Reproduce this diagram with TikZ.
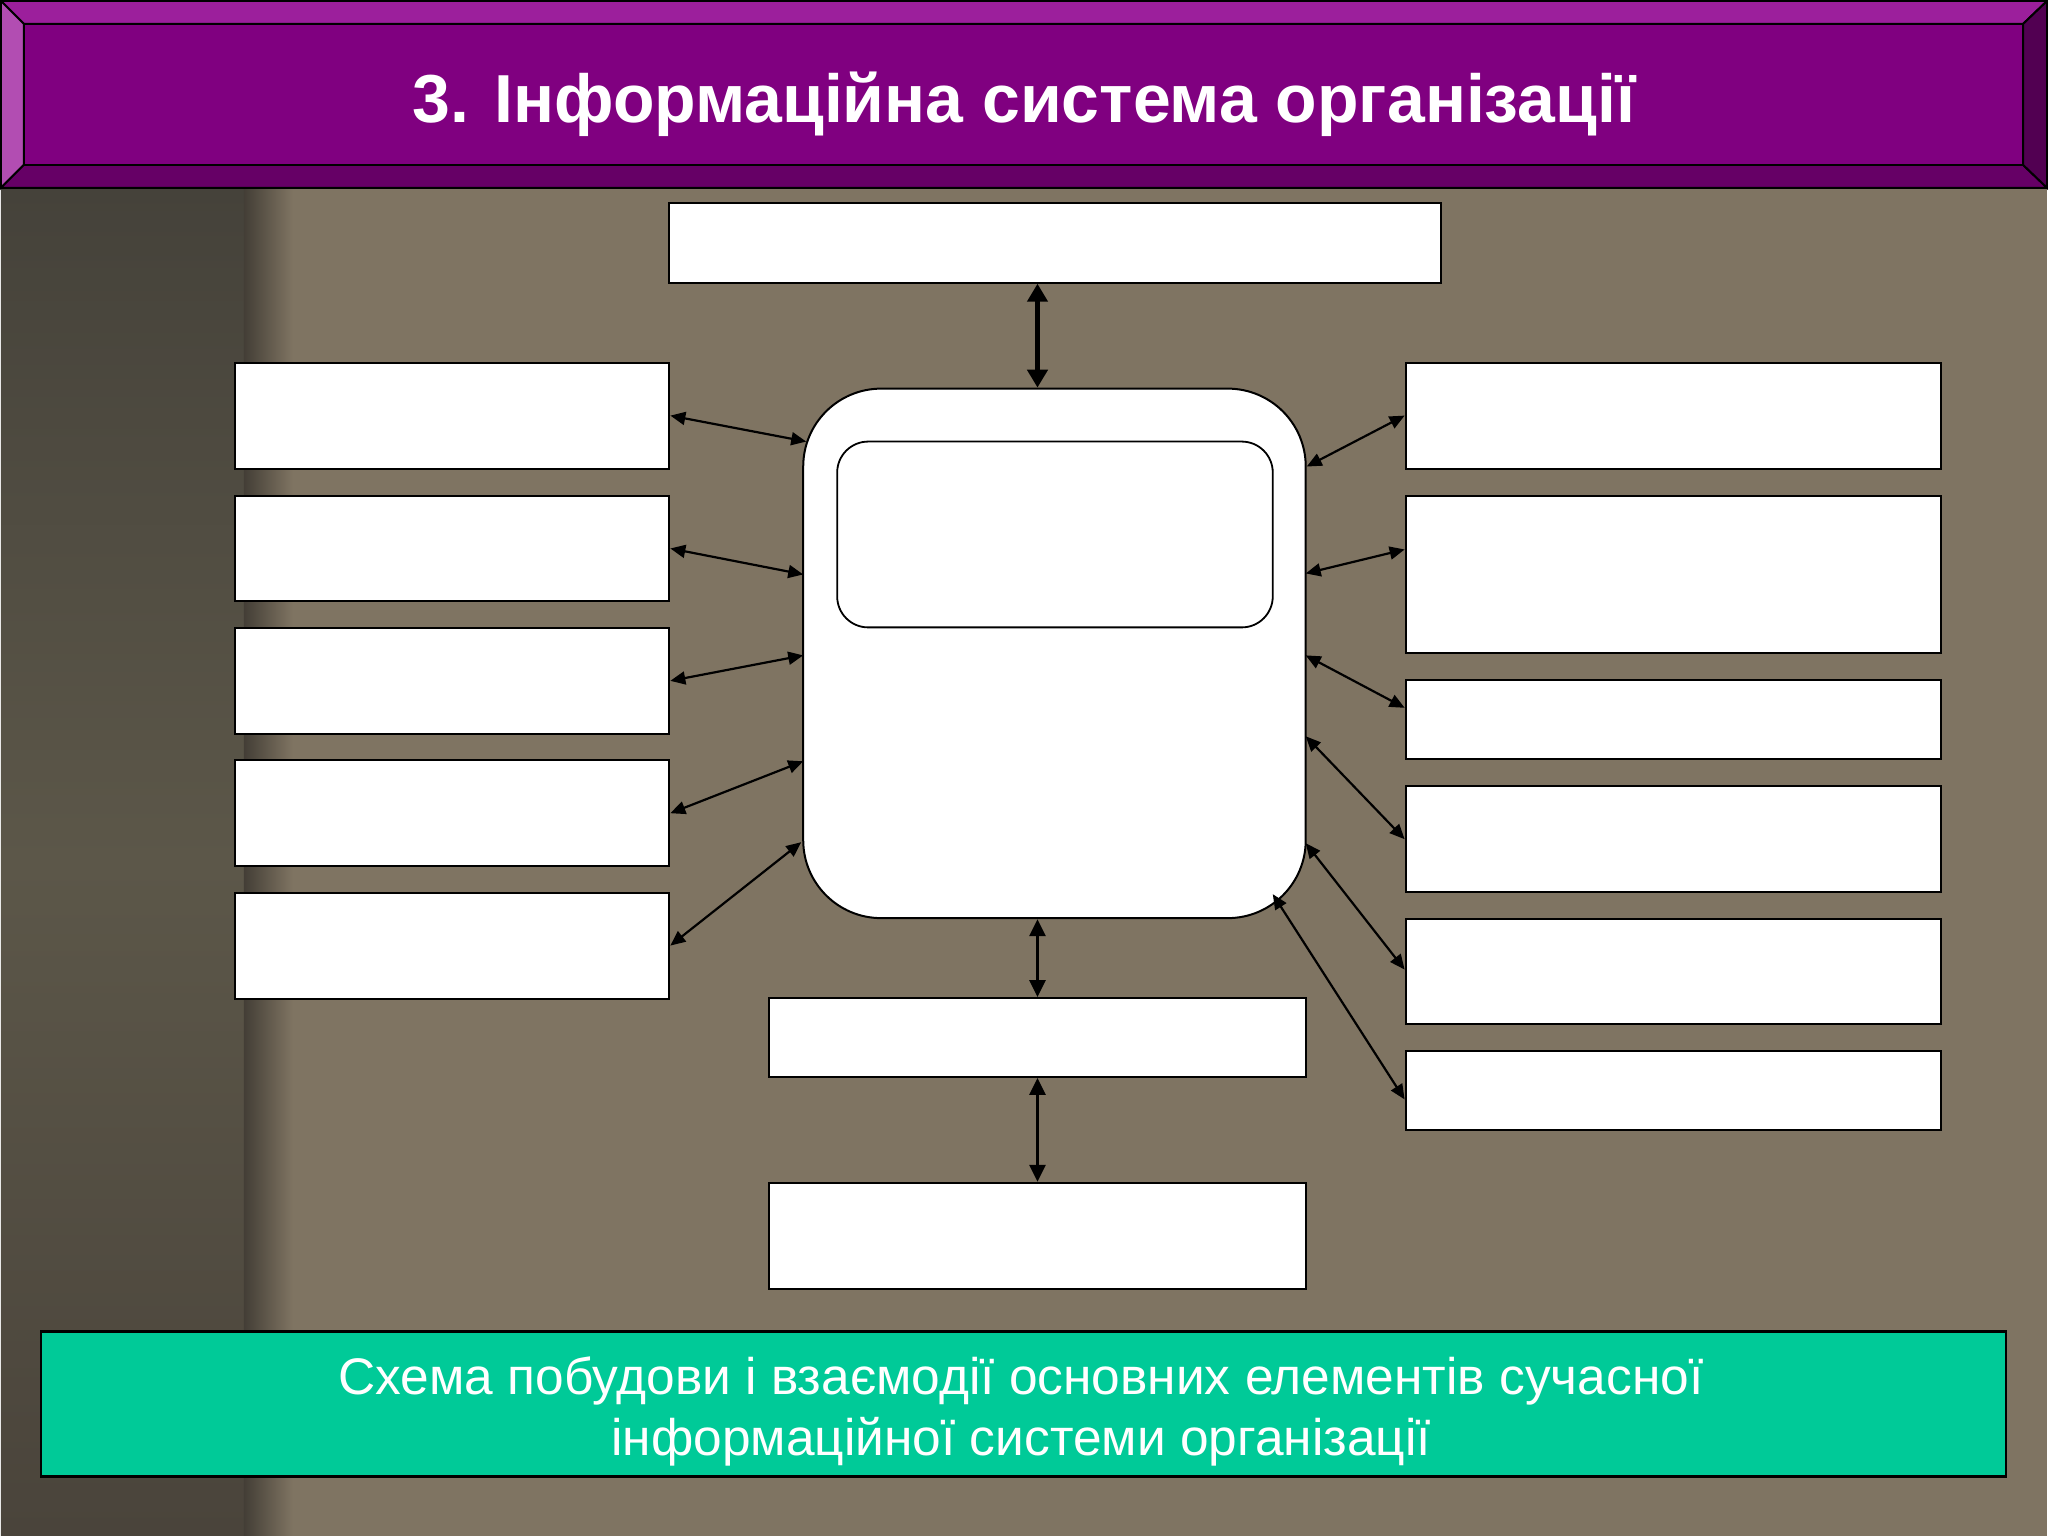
\documentclass[tikz,border=0pt]{standalone}
\usepackage{fontspec}
\setmainfont{Liberation Sans}
\usetikzlibrary{arrows.meta,calc}
\definecolor{bgc}{HTML}{7F7462}
\definecolor{stripTop}{HTML}{45423A}
\definecolor{stripMid}{HTML}{5C5749}
\definecolor{stripBot}{HTML}{4A443B}
\definecolor{stripEdge}{HTML}{433E36}
\definecolor{bevTop}{HTML}{9C1F9C}
\definecolor{bevLeft}{HTML}{B24DB2}
\definecolor{bevBot}{HTML}{660066}
\definecolor{bevRight}{HTML}{520052}
\definecolor{titleFill}{HTML}{800080}
\definecolor{tealc}{HTML}{00CA98}
\tikzset{
  wbox/.style={draw=black, fill=white, line width=2pt, inner sep=0pt},
  bevel/.style={draw=black, line width=2pt, line join=miter},
  link/.style={{Triangle[length=15pt,width=13pt]}-{Triangle[length=15pt,width=13pt]}, line width=2.2pt},
  vlink/.style={{Triangle[length=17pt,width=16pt]}-{Triangle[length=17pt,width=16pt]}, line width=2.8pt},
  boldlink/.style={{Triangle[length=18pt,width=20pt]}-{Triangle[length=18pt,width=20pt]}, line width=6pt},
}
\begin{document}
\begin{tikzpicture}[x=1pt,y=-1pt]
% background
\fill[bgc] (0,0) rectangle (2048,1536);
\shade[top color=stripTop, bottom color=stripBot, middle color=stripMid] (0,187) rectangle (243,1536);
\shade[left color=stripEdge, right color=bgc] (243,187) rectangle (292,1536);

% title bar
\fill[titleFill] (0,0) rectangle (2048,187);
\filldraw[bevel, fill=bevTop] (0,0) -- (2048,0) -- (2024,23) -- (23,23) -- cycle;
\filldraw[bevel, fill=bevLeft] (0,0) -- (23,23) -- (23,164) -- (0,187) -- cycle;
\filldraw[bevel, fill=bevBot] (0,187) -- (23,164) -- (2024,164) -- (2048,187) -- cycle;
\filldraw[bevel, fill=bevRight] (2048,0) -- (2048,187) -- (2024,164) -- (2024,23) -- cycle;
\draw[bevel, fill=titleFill] (23,23) rectangle (2024,164);
\node[anchor=base, text=white, inner sep=0pt, font=\fontsize{68}{80}\selectfont\bfseries] (title) at (1024,122) {3. Інформаційна система організації};

% boxes
\node[wbox, minimum width=772pt, minimum height=80pt] (T) at (1055,242) {};
\node[wbox, minimum width=435pt, minimum height=106pt] (L1) at (451.5,415) {};
\node[wbox, minimum width=435pt, minimum height=106pt] (L2) at (451.5,548) {};
\node[wbox, minimum width=435pt, minimum height=106pt] (L3) at (451.5,680.5) {};
\node[wbox, minimum width=435pt, minimum height=106pt] (L4) at (451.5,813) {};
\node[wbox, minimum width=435pt, minimum height=106pt] (L5) at (451.5,945.5) {};
\node[wbox, minimum width=536pt, minimum height=106pt] (R1) at (1674,415) {};
\node[wbox, minimum width=536pt, minimum height=158pt] (R2) at (1674,574) {};
\node[wbox, minimum width=536pt, minimum height=79pt] (R3) at (1674,719.5) {};
\node[wbox, minimum width=536pt, minimum height=106pt] (R4) at (1674,839) {};
\node[wbox, minimum width=536pt, minimum height=105pt] (R5) at (1674,971.5) {};
\node[wbox, minimum width=536pt, minimum height=79pt] (R6) at (1674,1090.5) {};
\node[wbox, minimum width=537pt, minimum height=79pt] (B1) at (1037.5,1037.5) {};
\node[wbox, minimum width=537pt, minimum height=106pt] (B2) at (1037.5,1236) {};
\node[wbox, minimum width=503pt, minimum height=530pt, rounded corners=78pt] (big) at (1054.5,653) {};
\node[wbox, line width=1.8pt, minimum width=436pt, minimum height=186pt, rounded corners=31pt] (inner) at (1055,534) {};

% attachment points on the central block
\coordinate (bl1) at (806,441);
\coordinate (bl2) at (803,574);
\coordinate (bl3) at (803,655);
\coordinate (bl4) at (803,761);
\coordinate (bl5) at (801,842);
\coordinate (br1) at (1307,466);
\coordinate (br2) at (1306,573);
\coordinate (br3) at (1306,655);
\coordinate (br4) at (1306,736);
\coordinate (br5) at (1306,843);
\coordinate (br6) at (1273,894);

% connectors
\draw[boldlink] (T.south -| B1.north) -- (big.north -| B1.north);
\draw[vlink] (big.south -| B1.north) -- (B1.north);
\draw[vlink] (B1.south) -- (B2.north);
\draw[link] (L1.east) -- (bl1);
\draw[link] (L2.east) -- (bl2);
\draw[link] (L3.east) -- (bl3);
\draw[link] (L4.east) -- (bl4);
\draw[link] (L5.east) -- (bl5);
\draw[link] (br1) -- (R1.west);
\draw[link] (br2) -- ($(R2.west)+(0,-25)$);
\draw[link] (br3) -- ($(R3.west)+(0,-12)$);
\draw[link] (br4) -- (R4.west);
\draw[link] (br5) -- ($(R5.west)+(0,-2)$);
\draw[link] (br6) -- ($(R6.west)+(0,9)$);

% caption
\filldraw[draw=black, line width=2.5pt, fill=tealc] (40,1332) rectangle (2007,1477);
\node[align=center, text=white, inner sep=0pt, font=\fontsize{51.5}{61.5}\selectfont] (cap) at (1021,1412) {Схема побудови і взаємодії основних елементів сучасної\\інформаційної системи організації};
\end{tikzpicture}
\end{document}
